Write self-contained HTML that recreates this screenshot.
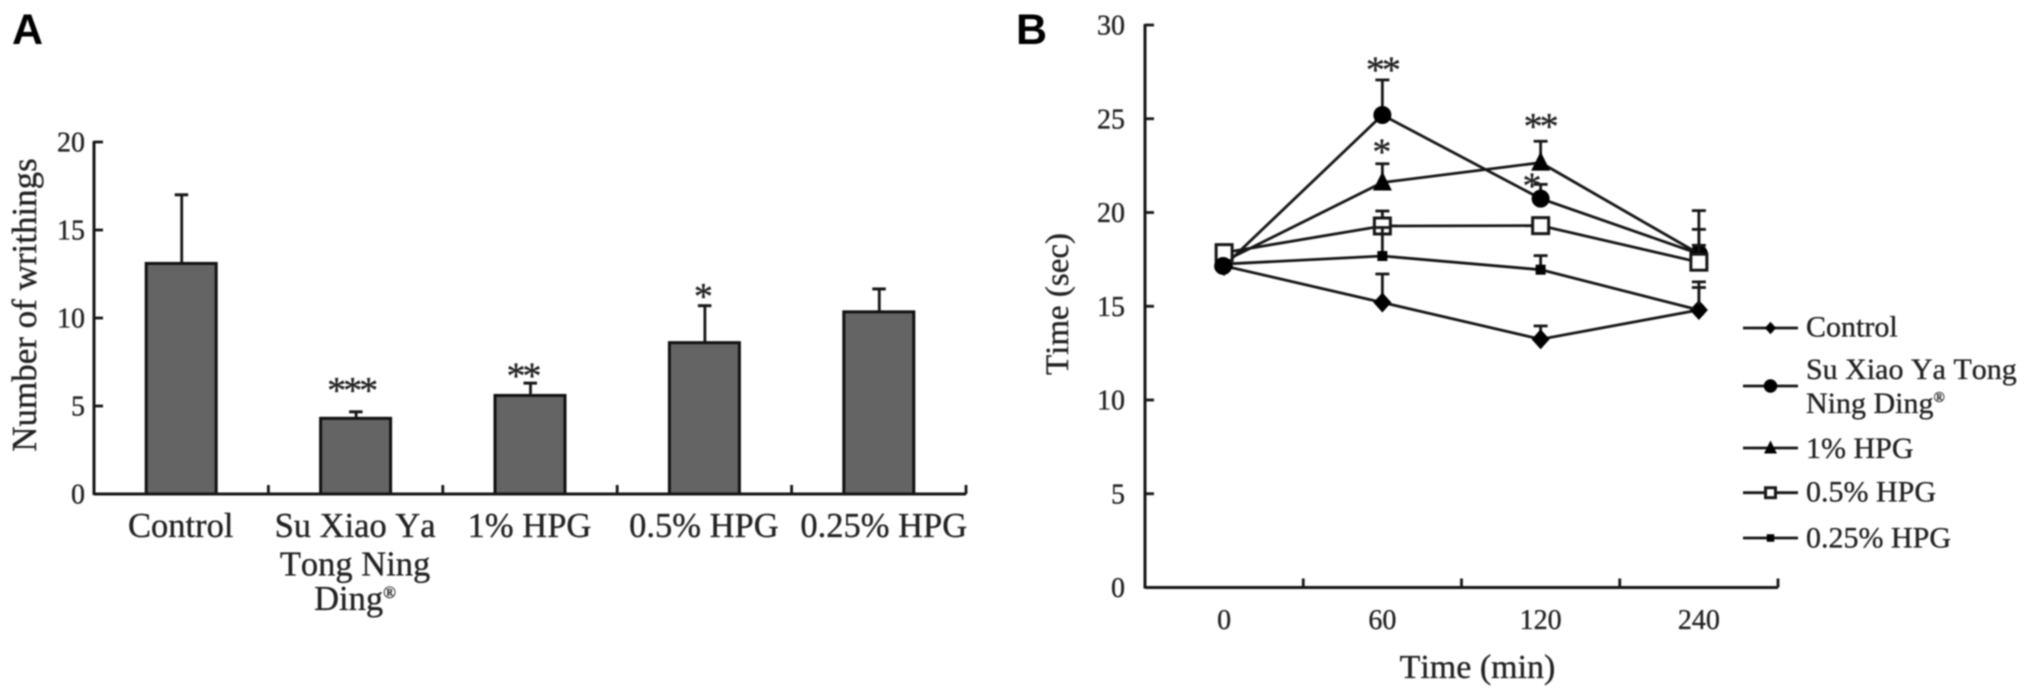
<!DOCTYPE html>
<html lang="en">
<head>
<meta charset="utf-8">
<title>Writhing and latency charts</title>
<style>
html,body{margin:0;padding:0;background:#fff;}
body{width:2031px;height:697px;overflow:hidden;}
svg{display:block;filter:blur(0.8px);}
text{font-family:"Liberation Serif",serif;fill:#222;stroke:#222;stroke-width:.35px;font-kerning:none;}
.panel{font-family:"Liberation Sans",sans-serif;font-weight:bold;font-size:43px;fill:#000;stroke:none;}
</style>
</head>
<body>
<svg id="fig" xmlns="http://www.w3.org/2000/svg" width="2031" height="697" viewBox="0 0 2031 697">
  <rect x="0" y="0" width="2031" height="697" fill="#fff"/>
  <text class="panel" x="12" y="44">A</text>
  <text class="panel" x="1016" y="44">B</text>
  <g id="chartA"></g>
  <g id="chartB"></g>
  <g id="legend"></g>
</svg>
<script>
// Panel A data
const barCategories = [["Control"], ["Su Xiao Ya", "Tong Ning", "Ding®"], ["1% HPG"], ["0.5% HPG"], ["0.25% HPG"]];
const barValues = [13.1, 4.3, 5.6, 8.6, 10.35];
const barErrorTops = [17.0, 4.67, 6.3, 10.7, 11.65];
const barStars = ["", "***", "**", "*", ""];
const barTicks = [0, 5, 10, 15, 20];

// Panel B data
const timeCategories = ["0", "60", "120", "240"];
const timeTicks = [0, 5, 10, 15, 20, 25, 30];
const seriesNames = ["Control", "Su Xiao Ya Tong Ning Ding®", "1% HPG", "0.5% HPG", "0.25% HPG"];
const controlValues = [17.15, 15.2, 13.24, 14.8];
const suXiaoValues = [17.15, 25.2, 20.74, 17.8];
const hpg1Values = [17.4, 21.6, 22.66, 17.8];
const hpg05Values = [17.86, 19.28, 19.3, 17.35];
const hpg025Values = [17.25, 17.68, 16.95, 14.8];
const controlErrorTops = [null, 16.72, 13.95, 16.3];
const suXiaoErrorTops = [null, 27.07, 21.5, 20.1];
const hpg1ErrorTops = [null, 22.6, 23.8, 19.1];
const hpg05ErrorTops = [null, 20.08, 19.3, 18.25];
const hpg025ErrorTops = [null, 19.2, 17.7, 16.0];
const suXiaoStars = ["", "**", "*", ""];
const hpg1Stars = ["", "*", "**", ""];

const NS = "http://www.w3.org/2000/svg";
const INK = "#161616";
function make(parent, tag, attrs, content) {
  const node = document.createElementNS(NS, tag);
  for (const k in attrs) node.setAttribute(k, attrs[k]);
  if (content !== undefined) node.textContent = content;
  parent.appendChild(node);
  return node;
}
function line(parent, x1, y1, x2, y2, w) {
  return make(parent, "line", {x1, y1, x2, y2, stroke: INK, "stroke-width": w || 2.8});
}
// Star glyphs: large type with tight spacing; cy is the glyph's visual centre.
function stars(parent, text, cx, cy) {
  const t = make(parent, "text", {x: cx - (text.length > 1 ? 1.5 : 0), y: cy + 17.5, "font-size": 38, "letter-spacing": text.length > 1 ? -3 : 0, "text-anchor": "middle"}, text);
  
  
  return t;
}

/* ---------- Panel A ---------- */
const A = document.getElementById("chartA");
const aLeft = 94, aRight = 966, aBase = 494, aTop = 142, aMax = 20;
const ay = v => aBase - (v / aMax) * (aBase - aTop);
const aBand = (aRight - aLeft) / barCategories.length;
const ax = i => aLeft + aBand * (i + 0.5);
const aStarNudgeX = [0, -3, -6, -1, 0];
const aStarNudgeY = [0, -26.5, -12.3, -14, 0];

barValues.forEach((v, i) => {
  const bar = make(A, "rect", {x: ax(i) - 35, y: ay(v), width: 70, height: aBase - ay(v), fill: "#646464", stroke: "#111", "stroke-width": 3});
  
  
  const err = make(A, "g", {});
  
  
  line(err, ax(i) + 0.5, ay(v), ax(i) + 0.5, ay(barErrorTops[i]));
  line(err, ax(i) - 6.5, ay(barErrorTops[i]), ax(i) + 7, ay(barErrorTops[i]), 3);
  if (barStars[i]) stars(A, barStars[i], ax(i) + aStarNudgeX[i], ay(barErrorTops[i]) + aStarNudgeY[i]);
});
const aAxes = make(A, "g", {});


line(aAxes, aLeft, aTop - 1, aLeft, aBase + 1, 3);
line(aAxes, aLeft, aBase, aRight, aBase, 3);
barTicks.forEach(t => {
  line(aAxes, aLeft, ay(t), aLeft + 9, ay(t));
  const l = make(A, "text", {x: 85, y: ay(t) + 9.5, "font-size": 28, "text-anchor": "end"}, String(t));
  
  
});
barCategories.forEach((lines, i) => {
  line(aAxes, aLeft + aBand * (i + 1), aBase - 9, aLeft + aBand * (i + 1), aBase);
  const rows = [537, 575.5, 610];
  lines.forEach((row, r) => {
    const t = make(A, "text", {x: ax(i) - (i === 4 ? -5 : 0.5), y: rows[r], "font-size": 34.5, "text-anchor": "middle"});
    
    
    const parts = row.split("®");
    make(t, "tspan", {}, parts[0]);
    if (parts.length > 1) make(t, "tspan", {"font-size": 17, dy: -12}, "®");
  });
});
const aTitle = make(A, "text", {x: 0, y: 0, "font-size": 35, "text-anchor": "middle", transform: "translate(36 305) rotate(-90)"}, "Number of writhings");



/* ---------- Panel B ---------- */
const B = document.getElementById("chartB");
const bLeft = 1145, bRight = 1778, bBase = 587.5, bTop = 25, bMax = 30;
const by = v => bBase - (v / bMax) * (bBase - bTop);
const bBand = (bRight - bLeft) / timeCategories.length;
const bx = i => bLeft + bBand * (i + 0.5);

function marker(parent, kind, x, y, s) {
  let m;
  if (kind === "circle") m = make(parent, "circle", {cx: x, cy: y, r: 9 * s, fill: "#000"});
  if (kind === "diamond") m = make(parent, "polygon", {points: [[x, y - 10 * s], [x + 9 * s, y], [x, y + 10 * s], [x - 9 * s, y]].join(" "), fill: "#000"});
  if (kind === "triangle") m = make(parent, "polygon", {points: [[x, y - 11 * s], [x + 9.5 * s, y + 8 * s], [x - 9.5 * s, y + 8 * s]].join(" "), fill: "#000"});
  if (kind === "open-square") m = make(parent, "rect", {x: x - 8 * s, y: y - 8 * s, width: 16 * s, height: 16 * s, fill: "#fff", stroke: INK, "stroke-width": 3});
  if (kind === "small-square") m = make(parent, "rect", {x: x - 5 * s, y: y - 5 * s, width: 10 * s, height: 10 * s, fill: "#000"});
  return m;
}

const seriesValues = [controlValues, suXiaoValues, hpg1Values, hpg05Values, hpg025Values];
const seriesErrors = [controlErrorTops, suXiaoErrorTops, hpg1ErrorTops, hpg05ErrorTops, hpg025ErrorTops];
const seriesMarkers = ["diamond", "circle", "triangle", "open-square", "small-square"];

seriesValues.forEach((vals, s) => {
  const g = make(B, "g", {});
  
  
  seriesErrors[s].forEach((top, i) => {
    if (top === null) return;
    line(g, bx(i), by(vals[i]), bx(i), by(top));
    line(g, bx(i) - 7, by(top), bx(i) + 7, by(top), 2.8);
  });
  make(g, "polyline", {points: vals.map((v, i) => bx(i) + "," + by(v)).join(" "), fill: "none", stroke: INK, "stroke-width": 2.8});
  vals.forEach((v, i) => {
    if (s === 1 && i === 0) return; // the first circle sits above the open square
    marker(g, seriesMarkers[s], bx(i), by(v), 1);
  });
});
const firstCircle = make(B, "g", {});


marker(firstCircle, "circle", bx(0) - 1, by(suXiaoValues[0]), 1);

const suStarNudgeX = [0, 1, -8.6, 0];
const suStarNudgeY = [0, -15, -3.3, 0];
const hpgStarNudgeX = [0, -0.5, 0.5, 0];
const hpgStarNudgeY = [0, -17, -20, 0];
suXiaoStars.forEach((t, i) => { if (t) stars(B, t, bx(i) + suStarNudgeX[i], by(suXiaoErrorTops[i]) + suStarNudgeY[i]); });
hpg1Stars.forEach((t, i) => { if (t) stars(B, t, bx(i) + hpgStarNudgeX[i], by(hpg1ErrorTops[i]) + hpgStarNudgeY[i]); });

const bAxes = make(B, "g", {});


line(bAxes, bLeft, bTop - 1, bLeft, bBase + 1, 3);
line(bAxes, bLeft, bBase, bRight, bBase, 3);
timeTicks.forEach(t => {
  line(bAxes, bLeft, by(t), bLeft + 9, by(t));
  const l = make(B, "text", {x: 1125, y: by(t) + 9.5, "font-size": 28, "text-anchor": "end"}, String(t));
  
  
});
timeCategories.forEach((c, i) => {
  line(bAxes, bLeft + bBand * (i + 1), bBase - 9, bLeft + bBand * (i + 1), bBase);
  const l = make(B, "text", {x: bx(i), y: 629, "font-size": 28, "text-anchor": "middle"}, c);
  
  
});
const bTitleY = make(B, "text", {x: 0, y: 0, "font-size": 33, "text-anchor": "middle", transform: "translate(1068 304) rotate(-90)"}, "Time (sec)");


const bTitleX = make(B, "text", {x: 1477.5, y: 678, "font-size": 34, "text-anchor": "middle"}, "Time (min)");



/* ---------- Legend ---------- */
const L = document.getElementById("legend");
const legendKeyY = [328, 386, 448, 492.7, 538];
const legendRows = [[["Control", 336.7]], [["Su Xiao Ya Tong", 379], ["Ning Ding", 413]], [["1% HPG", 458]], [["0.5% HPG", 501.7]], [["0.25% HPG", 547.7]]];
const legendScale = [0.62, 0.75, 0.68, 0.62, 0.75];
seriesNames.forEach((name, s) => {
  const g = make(L, "g", {});
  
  
  line(g, 1743, legendKeyY[s], 1798, legendKeyY[s], 2.8);
  marker(g, seriesMarkers[s], 1770.5, legendKeyY[s], legendScale[s]);
  legendRows[s].forEach((row, r) => {
    const t = make(g, "text", {x: 1806, y: row[1], "font-size": 30});
    make(t, "tspan", {}, row[0]);
    if (name.endsWith("®") && r === legendRows[s].length - 1) make(t, "tspan", {"font-size": 15, dy: -11}, "®");
  });
});
</script>
</body>
</html>
